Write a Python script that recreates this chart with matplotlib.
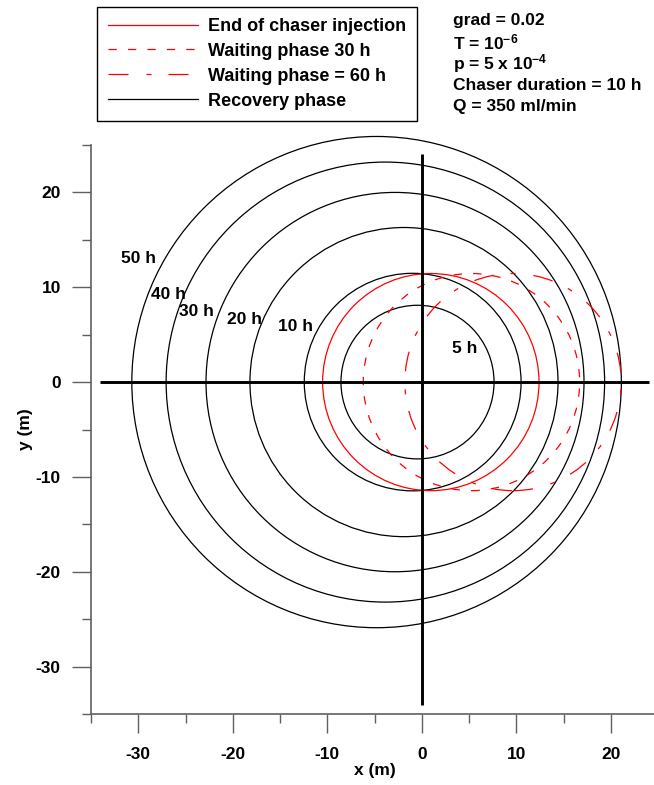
import matplotlib
matplotlib.use("Agg")
import matplotlib.pyplot as plt
from matplotlib.patches import Circle
from matplotlib.lines import Line2D
from matplotlib.ticker import MultipleLocator

plt.rcParams['font.family'] = ['Liberation Sans', 'DejaVu Sans']
plt.rcParams['font.weight'] = 'bold'
plt.rcParams['axes.unicode_minus'] = False
plt.rcParams['mathtext.fontset'] = 'custom'
plt.rcParams['mathtext.rm'] = 'Liberation Sans:bold'
plt.rcParams['mathtext.default'] = 'rm'
plt.rcParams['lines.scale_dashes'] = False

# Recovery phase fronts (black circles)
recovery_labels = ["5 h", "10 h", "20 h", "30 h", "40 h", "50 h"]
recovery_cx = [-0.45, -0.96, -1.88, -2.83, -3.85, -4.78]
recovery_r = [8.10, 11.47, 16.30, 20.00, 23.20, 25.90]
label_x = [4.5, -13.4, -18.8, -23.8, -26.8, -30.0]
label_y = [3.55, 5.85, 6.6, 7.4, 9.2, 13.0]

# Red fronts: end of injection, waiting 30 h, waiting 60 h
red_names = ["End of chaser injection", "Waiting phase 30 h", "Waiting phase = 60 h"]
red_cx = [0.96, 5.26, 9.66]
red_r = [11.45, 11.45, 11.45]

# Axis cross lines extent
cross_extent = [-34, 24]

params_text = ["grad = 0.02", "T = 10$^{-6}$", "p = 5 x 10$^{-4}$",
               "Chaser duration = 10 h", "Q = 350 ml/min"]

FS = 12.5
LFS = 13
dash_styles = ['-', (0, (6, 8)), (0, (14.4, 13, 3.6, 12.2))]

fig = plt.figure(figsize=(6.54, 7.85), dpi=100)
ax = fig.add_axes([91/654, 71/785, 567/654, 569/785])
ax.set_xlim(-35, 25)
ax.set_ylim(-35, 25)

for cx, r in zip(recovery_cx, recovery_r):
    ax.add_patch(Circle((cx, 0), r, fill=False, edgecolor='black', lw=0.9, clip_on=False))
for cx, r, ls in zip(red_cx, red_r, dash_styles):
    ax.add_patch(Circle((cx, 0), r, fill=False, edgecolor='red', lw=0.9, linestyle=ls,
                        clip_on=False))

ax.plot(cross_extent, [0, 0], color='black', lw=2.1, solid_capstyle='butt')
ax.plot([0, 0], cross_extent, color='black', lw=2.1, solid_capstyle='butt')

for t, x, y in zip(recovery_labels, label_x, label_y):
    ax.text(x, y, t, fontsize=FS, fontweight='bold', ha='center', va='center')

for s in ['top', 'right']:
    ax.spines[s].set_visible(False)
for s in ['left', 'bottom']:
    ax.spines[s].set_color('#606060')
    ax.spines[s].set_linewidth(1.2)

ax.xaxis.set_major_locator(MultipleLocator(10))
ax.xaxis.set_minor_locator(MultipleLocator(5))
ax.yaxis.set_major_locator(MultipleLocator(10))
ax.yaxis.set_minor_locator(MultipleLocator(5))
ax.tick_params(which='major', direction='out', length=13.7, width=1.0, color='#606060',
               labelsize=FS, pad=8)
ax.tick_params(which='minor', direction='out', length=6.8, width=1.0, color='#606060')
ax.tick_params(axis='x', which='major', pad=10)
for lab in ax.get_xticklabels() + ax.get_yticklabels():
    lab.set_fontweight('bold')

ax.set_xlabel("x (m)", fontsize=FS, fontweight='bold', labelpad=1)
ax.set_ylabel("y (m)", fontsize=FS, fontweight='bold', labelpad=2)

handles = [Line2D([], [], color='red', lw=0.9, linestyle=dash_styles[0]),
           Line2D([], [], color='red', lw=0.9, linestyle=dash_styles[1]),
           Line2D([], [], color='red', lw=0.9, linestyle=dash_styles[2]),
           Line2D([], [], color='black', lw=0.9)]
leg = fig.legend(handles, red_names + ["Recovery phase"], loc='upper left',
                 bbox_to_anchor=(97/654, 1 - 7/785), borderaxespad=0,
                 prop={'size': LFS, 'weight': 'bold'}, frameon=True, fancybox=False,
                 edgecolor='black', framealpha=1, handlelength=4.98, handletextpad=0.55,
                 labelspacing=0.44, borderpad=0.6)
leg.get_frame().set_linewidth(1.0)

for i, t in enumerate(params_text):
    fig.text(453/654, 1 - (20.5 + 21.5 * i)/785, t, fontsize=FS, fontweight='bold',
             ha='left', va='center')

fig.savefig("out.png", dpi=100)
